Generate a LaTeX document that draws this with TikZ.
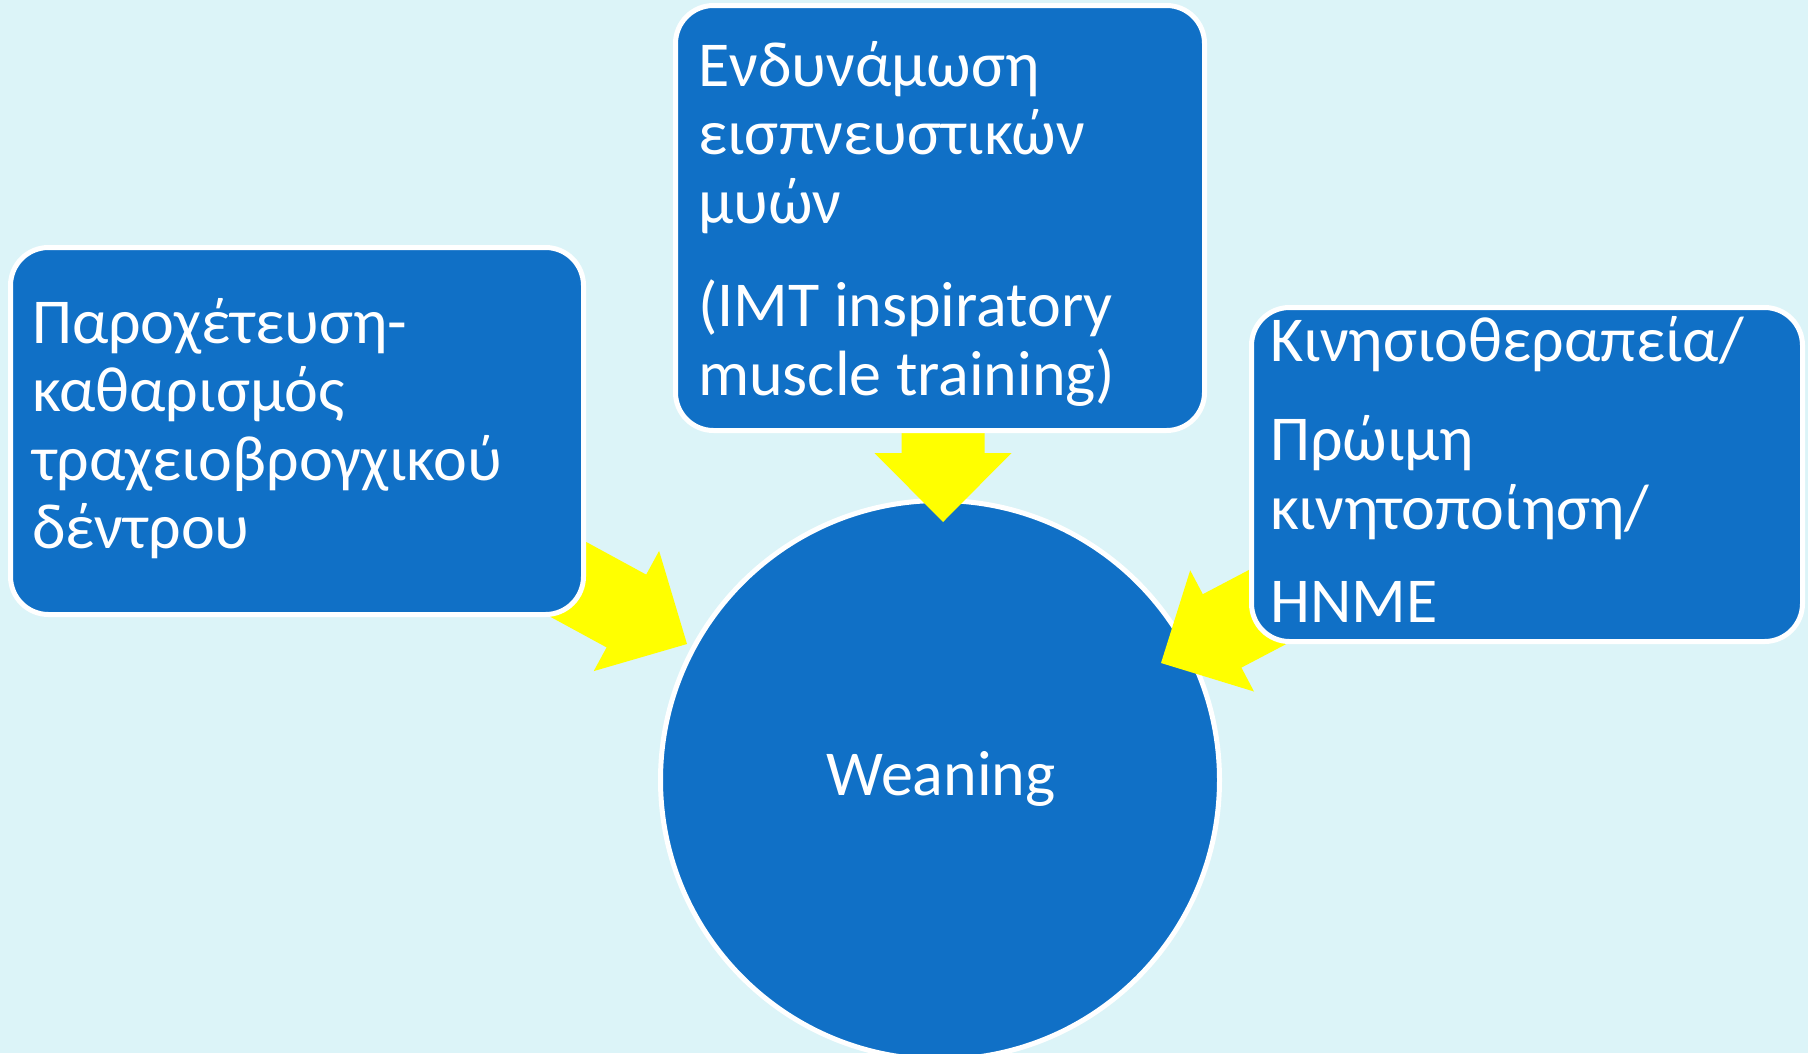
\documentclass[tikz,border=0pt]{standalone}
\usepackage{fontspec}
\setmainfont{Carlito}
\definecolor{bg}{RGB}{220,244,248}
\definecolor{boxblue}{RGB}{16,112,198}
\definecolor{arrowyellow}{RGB}{255,255,0}
\tikzset{
  panel/.style={fill=boxblue, draw=white, line width=5pt, rounded corners=38pt},
  bigarrow/.style={fill=arrowyellow, draw=none},
  txt/.style={text=white, inner sep=0pt, font=\fontsize{64}{68.5}\selectfont},
}
\begin{document}
\begin{tikzpicture}[x=1pt, y=-1pt]
\useasboundingbox (0,0) rectangle (1808,1053);
\fill[bg] (0,0) rectangle (1808,1053);

% central circle
\node[circle, fill=boxblue, draw=white, line width=5pt, minimum size=559pt, inner sep=0pt] (hub) at (940,780) {};
\node[txt, anchor=base] (hubtext) at (941,795) {Weaning};

% arrows (drawn under the boxes)
\fill[bigarrow] (687,644) -- (593.7,671.1) -- (606.6,647.4) -- (448.6,561.4)
  -- (488.2,488.6) -- (646.2,574.6) -- (659.1,550.9) -- cycle;
\fill[bigarrow] (943,522) -- (874.5,453) -- (901.5,453) -- (901.5,303)
  -- (984.5,303) -- (984.5,453) -- (1011.5,453) -- cycle;
\fill[bigarrow] (1161,663) -- (1190.2,570.3) -- (1202.8,594.2) -- (1362.1,510.5)
  -- (1400.7,583.9) -- (1241.4,667.6) -- (1254,691.5) -- cycle;

% boxes
\draw[panel] (10.5,247.5) rectangle (583.5,614.5);
\coordinate (leftbox) at (297,431);
\draw[panel] (675.5,5.5) rectangle (1204.5,430.5);
\coordinate (topbox) at (940,218);
\draw[panel] (1251.5,307.5) rectangle (1802.5,641.5);
\coordinate (rightbox) at (1527,474);

% texts
\node[txt, anchor=base west] (lefttext) at (32,343) {\vtop{%
  \hbox{Παροχέτευση-}\hbox{καθαρισμός}\hbox{τραχειοβρογχικού}\hbox{δέντρου}}};
\node[txt, anchor=base west] (toptext) at (698,86) {\vtop{%
  \hbox{Ενδυνάμωση}\hbox{εισπνευστικών}\hbox{μυών}\vskip35pt
  \hbox{(IMT inspiratory}\hbox{muscle training)}}};
\node[txt, anchor=base west] (righttext) at (1270,361) {\vtop{%
  \hbox{Κινησιοθεραπεία/}\vskip31pt\hbox{Πρώιμη}\hbox{κινητοποίηση/}\vskip25pt
  \hbox{HNME}}};
\end{tikzpicture}
\end{document}
